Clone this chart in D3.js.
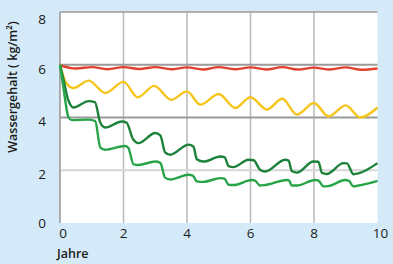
<!DOCTYPE html>
<html lang="de">
<head>
<meta charset="UTF-8">
<title>Wassergehalt</title>
<script src="https://d3js.org/d3.v7.min.js"></script>
<style>
  body { margin: 0; background: #d5eaf8; }
  svg { display: block; font-family: "Open Sans", "Noto Sans", sans-serif; }
  .tick-label { font-size: 13.5px; fill: #1a1a1a; }
  .axis-title { font-size: 12.5px; fill: #1a1a1a; font-weight: 600; }
</style>
</head>
<body>
<svg width="393" height="264"></svg>
<script>
// Werte: [Jahre, kg/m²]
const xTicks = [0, 2, 4, 6, 8, 10];
const yTicks = [0, 2, 4, 6, 8];

const red = [[0,5.98],[0.5,5.86],[1,5.91],[1.5,5.83],[2,5.91],[2.5,5.84],[3,5.91],[3.5,5.83],
  [4,5.9],[4.5,5.82],[5,5.91],[5.5,5.83],[6,5.9],[6.5,5.82],[7,5.91],[7.5,5.82],
  [8,5.89],[8.5,5.82],[9,5.9],[9.5,5.81],[10,5.86]];

const yellow = [[0,6.0],[0.08,5.65],[0.2,5.3],[0.43,5.12],[0.9,5.4],[1.43,4.93],[2.0,5.35],
  [2.45,4.77],[2.97,5.2],[3.5,4.67],[4.0,4.99],[4.42,4.49],[5.0,4.89],[5.52,4.36],
  [6.0,4.77],[6.52,4.3],[7.0,4.71],[7.46,4.11],[8.0,4.55],[8.46,4.04],[9.0,4.46],
  [9.46,4.0],[10,4.38]];

const darkGreen = [[0,6.0],[0.1,5.5],[0.25,4.7],[0.43,4.38],[0.9,4.62],[1.1,4.58],[1.27,3.8],
  [1.42,3.62],[1.95,3.85],[2.1,3.8],[2.3,3.18],[2.47,3.03],[3.0,3.41],[3.16,3.32],
  [3.31,2.68],[3.47,2.59],[4.05,2.97],[4.2,2.9],[4.31,2.42],[4.52,2.33],[5.05,2.52],
  [5.18,2.5],[5.31,2.16],[5.46,2.12],[5.94,2.4],[6.1,2.38],[6.3,2.02],[6.46,1.95],
  [7.09,2.4],[7.2,2.37],[7.3,1.97],[7.46,1.91],[7.98,2.33],[8.14,2.32],[8.25,1.9],
  [8.4,1.86],[8.93,2.27],[9.04,2.26],[9.24,1.85],[9.4,1.88],[10,2.27]];

const lightGreen = [[0,6.0],[0.1,5.2],[0.27,4.0],[0.37,3.9],[0.9,3.92],[1.11,3.86],[1.27,2.86],
  [1.42,2.78],[2.05,2.92],[2.15,2.85],[2.32,2.22],[2.47,2.2],[3.0,2.33],[3.16,2.28],
  [3.31,1.72],[3.47,1.65],[4.05,1.83],[4.18,1.8],[4.31,1.58],[4.52,1.56],[5.05,1.7],
  [5.18,1.68],[5.31,1.45],[5.46,1.44],[6.05,1.63],[6.15,1.6],[6.3,1.42],[6.46,1.44],
  [7.15,1.63],[7.22,1.6],[7.3,1.42],[7.46,1.42],[8.04,1.63],[8.15,1.6],[8.3,1.39],
  [8.45,1.4],[8.98,1.63],[9.1,1.6],[9.24,1.39],[9.4,1.42],[10,1.6]];

const svg = d3.select("svg");

const x = d3.scaleLinear().domain([0, 10]).range([60, 377.5]);
const y = d3.scaleLinear().domain([0, 8]).range([223, 12]);

// Plotfläche
svg.append("rect")
  .attr("x", x(0)).attr("y", y(8))
  .attr("width", x(10) - x(0)).attr("height", y(0) - y(8))
  .attr("fill", "#fff");

// Gitter
svg.append("g").selectAll("line")
  .data([2, 4, 6, 8])
  .join("line")
  .attr("x1", d => x(d)).attr("x2", d => x(d))
  .attr("y1", y(8)).attr("y2", y(0))
  .attr("stroke", "#bdbdbd").attr("stroke-width", 1.6);

svg.append("g").selectAll("line")
  .data([2, 4, 6, 8])
  .join("line")
  .attr("x1", x(0)).attr("x2", x(10))
  .attr("y1", d => y(d)).attr("y2", d => y(d))
  .attr("stroke", d => d === 2 ? "#d6d6d6" : "#9a9a9a")
  .attr("stroke-width", d => d === 8 ? 1.6 : 2);

svg.append("line")
  .attr("x1", x(0)).attr("x2", x(0))
  .attr("y1", y(8)).attr("y2", y(0))
  .attr("stroke", "#9a9a9a").attr("stroke-width", 1.6);

// Kurven
const line = d3.line()
  .x(d => x(d[0]))
  .y(d => y(d[1]))
  .curve(d3.curveMonotoneX);

const series = [
  { data: red, color: "#e2402e" },
  { data: yellow, color: "#f6c51c" },
  { data: darkGreen, color: "#1c8139" },
  { data: lightGreen, color: "#27a447" }
];

svg.append("g").selectAll("path")
  .data(series)
  .join("path")
  .attr("d", d => line(d.data))
  .attr("fill", "none")
  .attr("stroke", d => d.color)
  .attr("stroke-width", 2.4)
  .attr("stroke-linejoin", "round");

// Achsenbeschriftung
svg.append("g").selectAll("text")
  .data(yTicks)
  .join("text")
  .attr("class", "tick-label")
  .attr("x", 42).attr("y", d => y(d) + (d === 8 ? 7 : d === 0 ? 0 : 4))
  .attr("dy", "0.36em")
  .attr("text-anchor", "middle")
  .text(d => d);

svg.append("g").selectAll("text")
  .data(xTicks)
  .join("text")
  .attr("class", "tick-label")
  .attr("x", d => x(d) + (d === 0 ? 3 : d === 10 ? 3 : 0)).attr("y", 233)
  .attr("dy", "0.36em")
  .attr("text-anchor", "middle")
  .text(d => d);

svg.append("text")
  .attr("class", "axis-title")
  .attr("x", 57).attr("y", 258)
  .text("Jahre");

svg.append("text")
  .attr("class", "axis-title")
  .attr("transform", "translate(17,87) rotate(-90)")
  .attr("text-anchor", "middle")
  .text("Wassergehalt ( kg/m²)");
</script>
</body>
</html>
